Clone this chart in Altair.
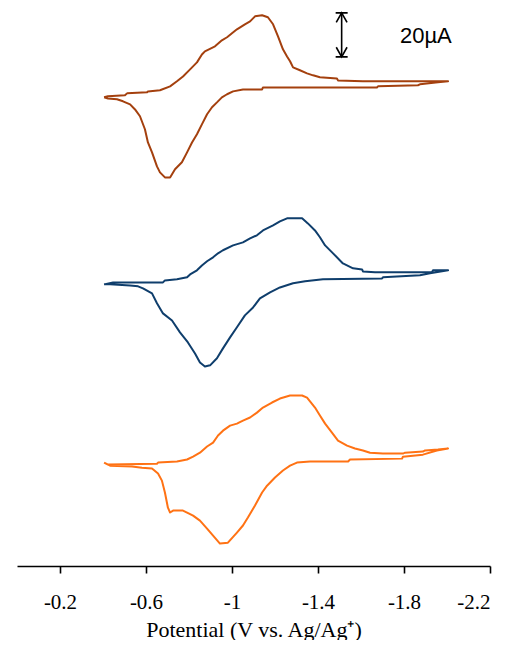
import altair as alt
import pandas as pd

# ---------------- data (potential in V, current in uA relative to each scan's start) -------------
TOP_E = [-0.405, -0.423, -0.502, -0.512, -0.605, -0.609, -0.665, -0.712, -0.744, -0.772, -0.805, -0.837,
         -0.860, -0.874, -0.921, -0.953, -0.977, -1.023, -1.060, -1.084, -1.107, -1.140, -1.167, -1.191,
         -1.214, -1.237, -1.256, -1.270, -1.284, -1.316, -1.349, -1.377, -1.409, -1.488, -1.493, -1.609,
         -2.005,
         -1.958, -1.874, -1.865, -1.679, -1.674, -1.144, -1.140, -1.051, -1.005, -0.977, -0.953, -0.930,
         -0.907, -0.884, -0.860, -0.837, -0.814, -0.791, -0.767, -0.735, -0.712, -0.688, -0.665, -0.651,
         -0.628, -0.609, -0.595, -0.572, -0.549, -0.526, -0.493, -0.465, -0.423, -0.405]
TOP_I = [0, 0.5, 0.9, 1.8, 2.3, 2.7, 3.2, 5.0, 7.3, 9.5, 12.7, 15.9,
         19.5, 20.9, 23.2, 25.9, 27.3, 30.9, 33.2, 34.5, 36.8, 37.3, 36.4, 33.2,
         27.7, 21.8, 18.6, 16.4, 13.6, 12.3, 10.9, 10.0, 9.1, 8.6, 7.7, 7.3,
         7.3,
         6.8, 5.9, 5.5, 5.0, 4.5, 4.5, 3.6, 3.6, 2.7, 1.4, 0, -2.3,
         -4.5, -7.7, -12.3, -16.8, -20.5, -25.0, -29.5, -32.7, -36.4, -36.4, -34.1, -31.4,
         -25.0, -20.5, -14.5, -8.6, -5.5, -3.2, -1.8, -0.9, -0.5, 0]

MID_E = [-0.405, -0.447, -0.679, -0.688, -0.744, -0.791, -0.805, -0.837, -0.860, -0.884, -0.912, -0.935,
         -0.958, -1.005, -1.051, -1.084, -1.116, -1.144, -1.191, -1.223, -1.256, -1.326, -1.353, -1.386,
         -1.409, -1.433, -1.470, -1.516, -1.563, -1.605, -1.609, -1.665, -1.930, -1.935, -2.005,
         -1.921, -1.874, -1.702, -1.698, -1.423, -1.340, -1.284, -1.223, -1.177, -1.130, -1.098, -1.060,
         -1.023, -0.991, -0.958, -0.930, -0.898, -0.874, -0.851, -0.828, -0.795, -0.758, -0.721, -0.679,
         -0.651, -0.628, -0.586, -0.563, -0.526, -0.433, -0.405]
MID_I = [0, 0.9, 0.9, 1.8, 2.3, 3.2, 4.5, 6.4, 8.6, 10.5, 12.3, 14.1,
         15.5, 17.7, 19.1, 20.9, 22.3, 24.5, 26.8, 28.6, 30.0, 30.0, 27.7, 24.5,
         21.4, 17.7, 14.1, 9.5, 7.3, 6.8, 5.9, 5.5, 5.5, 6.4, 6.4,
         5.0, 4.1, 3.2, 2.7, 2.3, 1.4, 0.5, -1.4, -3.6, -6.4, -10.5, -14.1,
         -19.5, -24.1, -29.1, -33.6, -36.8, -37.3, -35.5, -31.4, -26.4, -21.8, -16.4, -13.2,
         -8.6, -4.1, -1.8, -0.9, -0.5, 0, 0]

BOT_E = [-0.405, -0.423, -0.651, -0.656, -0.744, -0.791, -0.819, -0.851, -0.884, -0.912, -0.935, -0.958,
         -0.991, -1.023, -1.051, -1.084, -1.116, -1.144, -1.186, -1.223, -1.270, -1.326, -1.349, -1.386,
         -1.409, -1.433, -1.465, -1.493, -1.535, -1.572, -1.609, -1.642, -1.702, -1.795, -1.805, -1.888,
         -1.898, -1.958, -2.005,
         -1.953, -1.888, -1.795, -1.791, -1.549, -1.540, -1.363, -1.302, -1.270, -1.237, -1.200, -1.163,
         -1.140, -1.107, -1.074, -1.051, -1.023, -0.981, -0.944, -0.912, -0.884, -0.851, -0.819, -0.791,
         -0.772, -0.726, -0.712, -0.702, -0.688, -0.674, -0.656, -0.628, -0.581, -0.535, -0.433, -0.405]
BOT_I = [0, -0.9, -0.5, 0, 0.5, 1.4, 2.7, 4.5, 7.3, 9.1, 12.3, 14.5,
         16.8, 17.7, 19.1, 20.5, 22.7, 25.0, 27.3, 29.1, 30.5, 30.5, 29.5, 25.0,
         21.4, 17.7, 13.6, 10.0, 7.7, 6.4, 5.5, 4.5, 4.1, 4.1, 4.5, 5.0,
         5.5, 5.9, 6.4,
         5.5, 3.6, 2.7, 1.8, 1.4, 0.5, 0.5, 0, -1.4, -3.6, -6.8, -10.5,
         -13.6, -19.5, -25.0, -28.6, -31.8, -36.4, -36.8, -33.2, -30.0, -26.4, -24.1, -22.7,
         -21.8, -21.8, -22.7, -20.5, -13.6, -8.2, -5.0, -2.7, -2.3, -1.8, -1.4, 0]

CURVES = ["top", "middle", "bottom"]
OFFSETS = [213, 128, 47]          # vertical stacking offsets, uA
COLORS = ["#A4400E", "#0F3E6C", "#FF7214"]

X_TICKS = [-0.2, -0.6, -1, -1.4, -1.8, -2.2]
X_TITLE = "Potential (V vs. Ag/Ag\u207A)"

SCALEBAR_E = -1.51
SCALEBAR_TOP = 251.4
SCALEBAR_UA = 20
SCALEBAR_LABEL = "20\u00B5A"
LABEL_E = -1.781
LABEL_I = 237.5

# ---------------- build tables ----------------
rows = []
for name, es, cs, off in zip(CURVES, [TOP_E, MID_E, BOT_E], [TOP_I, MID_I, BOT_I], OFFSETS):
    for k, (e, c) in enumerate(zip(es, cs)):
        rows.append({"curve": name, "E": e, "I": c + off, "k": k})
df = pd.DataFrame(rows)

bar_df = pd.DataFrame({"E": [SCALEBAR_E], "top": [SCALEBAR_TOP], "bottom": [SCALEBAR_TOP - SCALEBAR_UA]})
lab_df = pd.DataFrame({"E": [LABEL_E], "I": [LABEL_I], "t": [SCALEBAR_LABEL]})

x_scale = alt.Scale(domain=[0, -2.2], nice=False, zero=False)
y_scale = alt.Scale(domain=[0, 253.6], nice=False, zero=False)

x_axis = alt.Axis(values=X_TICKS, title=X_TITLE, labelExpr="datum.value + ''",
                  grid=False, domainColor="black", domainWidth=1.6, tickColor="black",
                  tickWidth=1.6, tickSize=7, labelFont="Liberation Serif", labelFontSize=21,
                  labelColor="black", labelBaseline="alphabetic", labelPadding=35,
                  titleFont="Liberation Serif", titleFontSize=22, titleFontWeight="normal",
                  titleColor="black", titleBaseline="alphabetic", titleY=70)


def xenc(field="E"):
    return alt.X(f"{field}:Q", scale=x_scale, axis=x_axis)


lines = alt.Chart(df).mark_line(strokeWidth=2, strokeJoin="round").encode(
    x=xenc(),
    y=alt.Y("I:Q", scale=y_scale, axis=None),
    color=alt.Color("curve:N", scale=alt.Scale(domain=CURVES, range=COLORS), legend=None),
    detail="curve:N",
    order="k:Q",
)

bar = alt.Chart(bar_df).mark_rule(color="black", strokeWidth=1.6).encode(
    x=xenc(), y=alt.Y("top:Q", scale=y_scale, axis=None), y2="bottom:Q")

head_top = alt.Chart(bar_df).mark_point(
    shape="M-1,0L1,0M-0.9,1.6L0,0L0.9,1.6", size=144, filled=False,
    color="black", strokeWidth=1.6, opacity=1).encode(
    x=xenc(), y=alt.Y("top:Q", scale=y_scale, axis=None))

head_bot = alt.Chart(bar_df).mark_point(
    shape="M-1,0L1,0M-0.9,-1.6L0,0L0.9,-1.6", size=144, filled=False,
    color="black", strokeWidth=1.6, opacity=1).encode(
    x=xenc(), y=alt.Y("bottom:Q", scale=y_scale, axis=None))

label = alt.Chart(lab_df).mark_text(
    align="left", baseline="alphabetic", font="Liberation Sans", fontSize=22, color="black").encode(
    x=xenc(), y=alt.Y("I:Q", scale=y_scale, axis=None), text="t:N")

chart = alt.layer(lines, bar, head_top, head_bot, label).properties(
    width=473, height=558,
    autosize=alt.AutoSizeParams(type="none"),
    padding={"left": 9, "top": 0, "right": 16, "bottom": 74},
).configure_view(stroke=None)

chart.save("out.html", embed_options={"renderer": "svg", "actions": False})
